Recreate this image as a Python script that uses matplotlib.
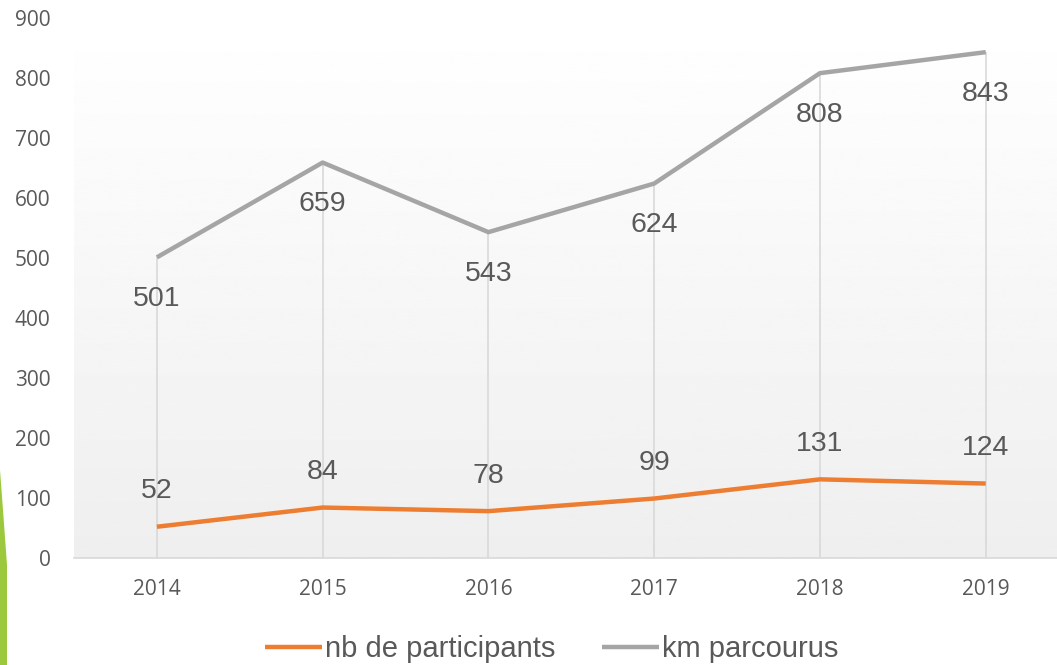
import numpy as np
import matplotlib
matplotlib.use("Agg")
import matplotlib.pyplot as plt
from matplotlib.patches import Polygon

# data
years = ["2014", "2015", "2016", "2017", "2018", "2019"]
participants = [52, 84, 78, 99, 131, 124]
km = [501, 659, 543, 624, 808, 843]

orange = "#ED7D31"
grey = "#A5A5A5"
txt = "#595959"

fig = plt.figure(figsize=(10.57, 6.65), dpi=100)
ax = fig.add_axes([0.070, 0.161, 0.941, 0.812])

x = np.arange(len(years))

# fond en dégradé
grad = np.linspace(1.0, 0.935, 256).reshape(-1, 1)
ax.imshow(grad, cmap="gray", vmin=0, vmax=1, aspect="auto",
          extent=[0, 1, 0, 1], transform=ax.transAxes, zorder=0)

# lignes de projection
ax.vlines(x, 0, np.maximum(km, participants), color="#d9d9d9", lw=1.2, zorder=1)

ax.plot(x, participants, color=orange, lw=3.2, label="nb de participants",
        solid_capstyle="butt", zorder=3)
ax.plot(x, km, color=grey, lw=3.2, label="km parcourus",
        solid_capstyle="butt", zorder=3)

for xi, v in zip(x, km):
    ax.annotate(str(v), (xi, v), xytext=(0, -30), textcoords="offset points",
                ha="center", va="center", fontsize=20.5,
                family="Liberation Sans", color=txt)
for xi, v in zip(x, participants):
    ax.annotate(str(v), (xi, v), xytext=(0, 25.5), textcoords="offset points",
                ha="center", va="center", fontsize=20.5,
                family="Liberation Sans", color=txt)

ax.set_xlim(-0.5, 5.5)
ax.set_ylim(0, 900)
ax.set_yticks(range(0, 901, 100))
ax.set_xticks(x)
ax.set_xticklabels(years)

for s in ["top", "right", "left"]:
    ax.spines[s].set_visible(False)
ax.spines["bottom"].set_color("#d9d9d9")
ax.spines["bottom"].set_linewidth(1.2)
ax.tick_params(length=0, labelsize=15, labelcolor=txt)
ax.tick_params(axis="y", pad=17)
ax.tick_params(axis="x", pad=15)
for lab in ax.get_xticklabels() + ax.get_yticklabels():
    lab.set_family("Open Sans")

leg = fig.legend(loc="center", bbox_to_anchor=(0.522, 0.024), ncol=2,
                 frameon=False, prop={"family": "Liberation Sans", "size": 21},
                 handlelength=1.95, handletextpad=0.12, columnspacing=1.6)
for t in leg.get_texts():
    t.set_color(txt)

# bande verte décorative (diapo)
W, H = 1057, 665
pts = [(0, 470), (3, 510), (7, 565), (7, 665), (0, 665)]
fig.patches.append(Polygon([(px / W, 1 - py / H) for px, py in pts],
                           closed=True, transform=fig.transFigure,
                           facecolor="#9BC83C", edgecolor="none"))

fig.savefig("out.png", dpi=100)
